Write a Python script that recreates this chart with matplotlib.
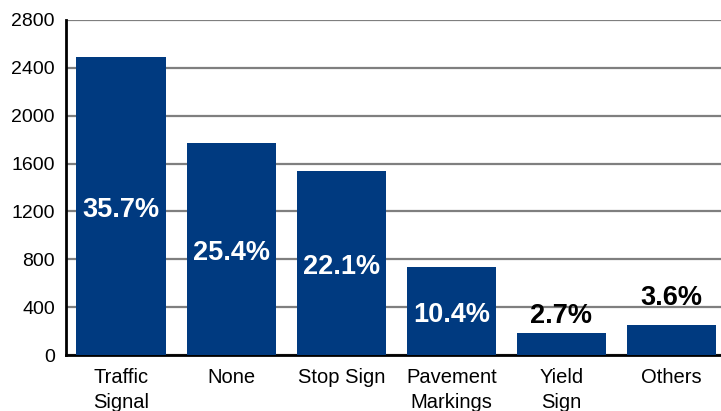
import matplotlib
matplotlib.use("Agg")
import matplotlib.pyplot as plt

categories = ["Traffic\nSignal", "None", "Stop Sign", "Pavement\nMarkings", "Yield\nSign", "Others"]
counts = [2490, 1772, 1538, 738, 186, 251]
shares = ["35.7%", "25.4%", "22.1%", "10.4%", "2.7%", "3.6%"]

plt.rcParams['font.family'] = ['Liberation Sans', 'DejaVu Sans']

fig = plt.figure(figsize=(7.21, 4.11), dpi=100)
ax = fig.add_axes([66 / 721, 56 / 411, 655 / 721, 335 / 411])

x = range(len(categories))
bars = ax.bar(x, counts, width=0.81, color="#003A80", zorder=3)

for i, (b, v, s) in enumerate(zip(bars, counts, shares)):
    cx = b.get_x() + b.get_width() / 2
    if v > 500:
        ax.text(cx, v / 2 - 35, s, ha="center", va="center", color="white",
                fontsize=19.5, fontweight="bold", zorder=4)
    else:
        off = 3 if v < 200 else 10
        ax.annotate(s, (cx, v), xytext=(0, off), textcoords="offset points",
                    ha="center", va="bottom", color="black",
                    fontsize=19.5, fontweight="bold", zorder=4)

ax.set_xlim(-0.5, 5.45)
ax.set_ylim(0, 2800)
ax.set_yticks(range(0, 2801, 400))
ax.set_xticks(list(x))
ax.set_xticklabels(categories, fontsize=14.5, linespacing=1.45)
ax.tick_params(axis="y", labelsize=14, length=0, pad=8)
ax.tick_params(axis="x", length=0, pad=9)

ax.yaxis.grid(True, color="#7f7f7f", linewidth=1.6, zorder=0)
ax.set_axisbelow(True)
for side in ["top", "right"]:
    ax.spines[side].set_visible(False)
ax.spines["left"].set_linewidth(2)
ax.spines["bottom"].set_linewidth(2)

fig.savefig("out.png", dpi=100)
